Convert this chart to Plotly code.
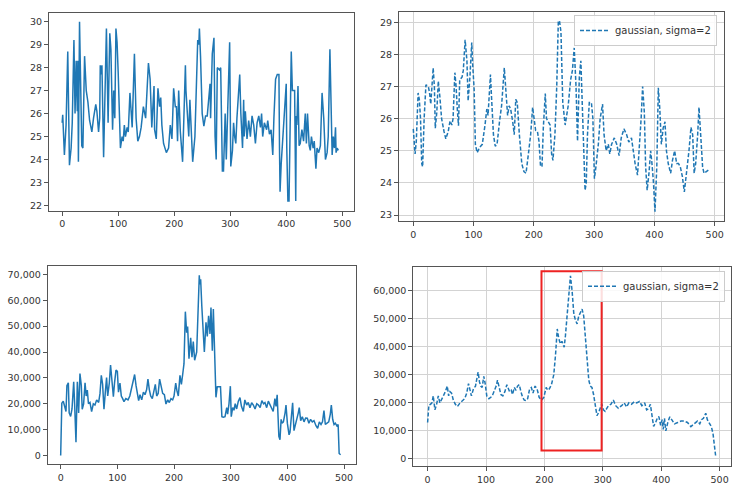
import plotly.graph_objects as go

# raw temperature series (top left) as (index, value)
raw_temp = [(0,25.6),(1,25.95),(4,24.2),(7,25.5),(10,28.7),(13,23.75),(16,24.5),(18,25.6),(21,29.2),(23,26.0),
    (25,28.3),(27,26.1),(28,28.3),(29,23.9),(31,30.0),(33,27.0),(35,24.6),(37,24.5),(40,28.5),(43,27.0),
    (46,26.5),(49,25.7),(53,25.2),(56,25.8),(60,26.4),(62,26.1),(65,25.2),(67,25.8),(68,28.1),(70,27.7),
    (71,28.1),(74,24.1),(76,26.0),(79,29.7),(82,25.6),(85,29.5),(87,28.8),(90,25.3),(92,27.0),(94,25.8),
    (96,29.7),(98,29.1),(100,27.8),(104,24.5),(107,25.0),(109,24.8),(111,25.5),(113,25.0),(116,25.4),(118,25.2),
    (121,26.9),(125,25.4),(129,28.6),(132,25.8),(135,24.8),(138,25.0),(141,25.4),(145,26.3),(149,25.8),(154,28.2),
    (157,27.5),(160,25.4),(164,27.2),(165,25.3),(168,24.9),(171,27.1),(174,26.3),(176,26.7),(178,25.5),(181,24.7),
    (186,24.3),(190,24.5),(193,25.5),(196,24.9),(199,27.1),(202,26.3),(204,26.3),(206,24.8),(208,27.0),(211,25.2),
    (215,23.9),(220,28.1),(221,27.0),(226,25.0),(228,26.6),(233,23.9),(237,25.0),(242,29.2),(244,29.0),(245,29.7),
    (247,28.5),(250,26.0),(253,25.45),(256,25.9),(259,25.9),(261,26.6),(264,27.3),(265,25.8),(268,28.6),(271,29.3),
    (273,25.0),(275,24.0),(277,28.0),(281,27.9),(283,28.0),(286,23.5),(288,23.5),(291,26.0),(293,24.0),(299,29.1),
    (301,23.7),(304,24.4),(306,25.6),(308,25.0),(310,24.7),(312,25.8),(315,27.0),(317,27.7),(319,26.0),(322,24.5),
    (324,26.6),(325,25.0),(327,26.1),(330,24.9),(333,25.7),(336,25.0),(339,25.9),(342,25.5),(345,24.7),(348,25.6),
    (351,25.9),(354,25.4),(356,26.0),(358,25.0),(361,25.6),(365,25.3),(367,25.7),(370,25.1),(373,25.3),(376,24.2),
    (378,25.8),(381,27.5),(384,27.7),(387,27.7),(388,24.5),(389,22.6),(391,23.8),(394,25.0),(397,26.4),(400,27.3),
    (401,24.5),(403,22.2),(405,22.2),(407,25.9),(409,28.7),(411,27.0),(415,27.0),(417,22.2),(418,25.9),(419,25.5),
    (421,27.2),(423,24.6),(425,24.7),(428,25.3),(431,24.8),(434,26.0),(436,24.7),(438,26.0),(441,24.6),(443,24.4),
    (445,25.0),(448,24.5),(450,24.8),(453,23.6),(455,24.5),(458,24.3),(461,24.6),(464,26.9),(467,25.8),(470,24.0),
    (473,24.3),(475,25.0),(478,28.8),(480,26.5),(482,24.2),(484,25.0),(486,24.5),(488,25.4),(489,24.3),(491,24.5),
    (493,24.4)]

# smoothed temperature (top right)
smooth_temp = [(0,25.68),(3,24.9),(5,25.3),(8,26.8),(10,26.6),(12,26.0),(14,24.6),(15.5,24.5),(18,26.0),(21,27.05),
    (25,27.0),(27,26.8),(29,26.45),(31,27.2),(33,27.58),(35,27.0),(36.5,25.7),(39,26.2),(41.5,27.17),(44,26.7),
    (47,26.0),(51,25.6),(54,25.37),(58,25.6),(61,25.93),(64,25.8),(66,26.0),(69,27.43),(71,27.0),(73,26.3),
    (75,25.78),(77,27.2),(81,27.3),(83,27.5),(86,28.45),(89,27.8),(91,26.55),(94,27.3),(97,28.37),(98.5,27.7),
    (101,26.9),(103,25.2),(106,24.94),(110,25.1),(114.5,25.2),(119,25.8),(122,26.3),(124,26.1),(128,27.37),(130,26.6),
    (133,25.5),(136,25.14),(139,25.2),(143,25.9),(146.5,26.4),(151,27.58),(154,26.9),(156.5,26.1),(159,26.4),(161.5,26.3),
    (165,25.9),(167.5,25.5),(170,26.6),(172.5,26.5),(176,25.5),(180,24.6),(183.6,24.35),(187,24.3),(191,24.9),(194.7,25.5),
    (198,26.35),(200,26.0),(203,25.63),(206,25.6),(208.5,25.3),(211,24.55),(213.5,24.5),(215.7,25.7),(219,26.78),(221,26.0),
    (224,25.9),(227,25.8),(229.5,24.9),(231.7,24.7),(235,25.5),(238,27.0),(240.6,29.02),(242.5,29.05),(245,28.7),(248,26.5),
    (252,25.8),(257,26.4),(261,27.2),(264,27.5),(267,28.2),(270,27.0),(272.5,25.3),(275.5,27.3),(278,27.8),(280.5,26.5),
    (282,25.2),(285,23.77),(287,24.0),(289,25.5),(292,26.5),(295.5,26.5),(298,26.0),(300.5,24.13),(303,24.5),(307,25.2),
    (310,26.0),(314,26.45),(316.5,25.5),(320,25.0),(323.6,25.2),(326,24.9),(329,25.2),(333.5,25.4),(337.5,25.2),(341.5,24.85),
    (345,25.4),(349.5,25.68),(354,25.5),(357.5,25.27),(362,25.4),(365,25.0),(368,24.6),(372,24.24),(375,25.0),(378,26.0),
    (380.5,27.0),(383.3,26.2),(385.5,24.5),(388,23.77),(391,24.3),(393.8,25.0),(396,24.6),(398.5,24.0),(401,23.1),(404,24.5),
    (406.5,26.96),(409,26.3),(411.6,25.2),(414.5,25.7),(417.6,25.9),(420,25.0),(423,24.6),(427,24.3),(430,24.7),(433.6,25.0),
    (437,24.6),(440,24.6),(443,24.5),(446.4,24.2),(449.7,23.72),(453.6,24.3),(457.4,25.0),(460.7,25.73),(463.5,25.5),(466,24.3),
    (468.5,24.6),(471.8,25.5),(474,26.35),(476.8,25.5),(480,24.5),(482.3,24.3),(486.7,24.35),(489.5,24.4)]

# raw counts (bottom left)
raw_count = [(0,0),(2,20200),(4.6,21000),(7.6,18500),(9.4,17000),(11,27000),(13.5,28100),(15,16500),(17.6,15100),(20,18000),
    (23,28500),(24.6,20000),(27,5100),(29.4,28500),(31.7,16400),(34,31700),(36.4,27000),(38,17900),(40.5,20000),(43,28100),
    (45,23000),(47,25300),(49,20000),(51.7,20500),(54.6,17000),(57.6,20000),(60.5,19500),(63.5,21500),(67,20500),(69.4,24000),
    (71.7,31000),(74,27500),(76.4,17900),(78.8,24500),(81,30100),(83,23000),(85.8,28000),(88,35000),(90.5,29000),(93,22700),
    (95,28000),(97.6,33000),(100,32500),(102,24500),(104.6,28000),(107,23000),(109.4,22000),(111.7,20800),(115,22000),(118.8,21500),
    (122,23000),(125,25900),(128,28000),(130.5,31300),(133,27000),(135,24000),(137.6,21200),(140,23500),(143,21500),(146,24500),
    (148.8,23500),(151.7,25500),(154,29500),(156.4,25500),(158.8,23000),(161.7,22000),(164.6,26000),(167,27500),(169.4,23000),(172,24000),
    (174.6,29500),(177.6,27000),(180,24000),(183,23500),(185.8,19900),(188.8,21500),(191.7,20500),(194.6,22000),(197.6,21500),(200,23000),
    (203,28000),(205.2,25000),(207.6,23000),(210.5,31000),(213,27500),(215.4,31500),(217.6,35500),(220,55600),(222.3,47500),(224,49900),
    (226.4,37400),(229.4,45500),(231.7,38000),(234,44000),(236.4,36800),(240,40000),(243,60000),(244.6,69700),(245.5,66200),(247,68100),
    (249,57900),(250.6,52000),(253.5,40000),(256.4,51500),(258.7,46000),(261,54000),(263.5,47000),(265.2,57200),(267.6,40500),(269.4,56600),
    (271.7,40000),(274,22500),(276.3,26600),(282,26600),(284.5,15000),(287,14800),(290,15000),(293,18500),(294.6,16000),(297,20000),
    (299.4,26800),(301,15000),(303.5,18500),(305.8,17500),(308,20000),(310.5,18000),(313.5,21000),(316.4,22400),(319,19000),(322.3,17000),
    (325,21500),(328.2,19500),(331,20500),(334,18500),(337,20400),(340,19500),(343,18000),(346,20000),(349,19500),(352,18500),
    (355,21200),(358,20000),(360.5,20500),(363.5,18500),(366.4,21000),(369.4,19500),(372,18000),(375,17000),(378,22000),(380,19000),
    (382,23500),(384,15000),(385,7400),(387,6100),(389,14000),(390.6,12500),(393,13000),(396,16500),(397.6,19500),(400,12500),
    (403,8000),(404.6,9000),(407.6,16000),(409.3,20400),(411.7,9600),(414,11500),(416.4,14000),(419.3,16500),(421,18500),(423.5,13500),
    (426.4,15000),(429.4,13000),(432.3,14500),(435.2,14400),(438,12500),(441,14000),(444,13000),(447,13500),(450.5,11500),(453.5,10500),
    (456.4,13000),(459.4,12000),(462,13000),(464.6,17400),(467,12000),(470,12500),(473,13000),(475.8,16000),(477.6,19500),(480,14000),
    (482.4,12000),(484.7,12500),(487.3,11500),(489.6,12000),(491.4,800),(494,300)]

# smoothed counts (bottom right)
smooth_count = [(0,13000),(2.2,19200),(5,19500),(7.4,20000),(9.7,22500),(12.5,17500),(15.4,19500),(18.3,22500),(21,20000),(24,21000),
    (27,22500),(30.3,24000),(33.7,26000),(36,22500),(38.3,24000),(41,23500),(44,21000),(47.5,19500),(51,18700),(55.5,20000),
    (60,21000),(63.6,21500),(67,23500),(70,26900),(72.2,25000),(75,22500),(78.5,25000),(82,26000),(84.2,28500),(86.5,31000),
    (88.8,27500),(91,26000),(93.4,25500),(96.2,29500),(98.5,27000),(101.3,22500),(105,21500),(108.3,22000),(111.7,23000),(114.5,24500),
    (117.4,26000),(119.7,28100),(122.5,25000),(125.4,23000),(128.8,22500),(132.3,24000),(135.7,26500),(138,25500),(140.4,24000),(143.3,24500),
    (145.5,23000),(148.4,25500),(151.3,24500),(154,26000),(157,26500),(159.8,24000),(162.7,22000),(165.6,21000),(168.5,20800),(171.3,21500),
    (174.7,25000),(177.6,25500),(180.5,23500),(184,26000),(187.4,25000),(191,22000),(195,21000),(199,22000),(203,25500),(205.7,24500),
    (208.5,25000),(212,26500),(216,30000),(219,37000),(222,46400),(224.6,43000),(227.4,41100),(230,42000),(233.9,39900),(236,44000),
    (239,51000),(241.7,58000),(244.6,65400),(247.4,60000),(250.3,52000),(253,49600),(256,48200),(258.8,51000),(261.6,52000),(264.5,53500),
    (267.3,51000),(270,44000),(273,35000),(276,28100),(278.5,26000),(281.4,25500),(284.2,23000),(287,20000),(290,15400),(292.7,16500),
    (295.5,18000),(298.3,19600),(301,17500),(304,17000),(306.8,18000),(309.6,19000),(314,19500),(318,21000),(322,19000),(326.6,18100),
    (332.2,19000),(336.7,20000),(340.7,18500),(344.6,20000),(349,19500),(353.7,20400),(358,20000),(362.7,20500),(367,19000),(371.7,20000),
    (375,17500),(378.5,18000),(381.4,19500),(384.3,15000),(387,11600),(390.5,13000),(393.3,14500),(396,15100),(399,12000),(401.7,14000),
    (403.4,10500),(405.6,14500),(407.9,10000),(411.3,13000),(414.7,15000),(418,14000),(422.7,12500),(428.3,13000),(434,13500),(439.5,13500),
    (445,13000),(450.8,11500),(456.5,12500),(462,13500),(466,12500),(469,14000),(472.3,14500),(476.3,16300),(479,14000),(482.5,12500),
    (485.9,11500),(488.7,9000),(490.5,5000),(493.3,900)]

legend_name = "gaussian, sigma=2"
highlight_x = [195, 298]
highlight_y = [3000, 67000]

W, H = 744, 485
BLUE = "#1f77b4"
FONT = "DejaVu Sans"


def split(pairs):
    return [p[0] for p in pairs], [p[1] for p in pairs]


def px_dom(a, b, total):
    return [a / total, b / total]


def py_dom(top, bottom):
    return [1 - bottom / H, 1 - top / H]


fig = go.Figure()

x, y = split(raw_temp)
fig.add_trace(go.Scatter(x=x, y=y, mode="lines", line=dict(color=BLUE, width=1.5),
                         xaxis="x", yaxis="y", showlegend=False))
x, y = split(smooth_temp)
fig.add_trace(go.Scatter(x=x, y=y, mode="lines", name=legend_name,
                         line=dict(color=BLUE, width=1.5, dash="4px,2px"),
                         xaxis="x2", yaxis="y2", legend="legend"))
x, y = split(raw_count)
fig.add_trace(go.Scatter(x=x, y=y, mode="lines", line=dict(color=BLUE, width=1.5),
                         xaxis="x3", yaxis="y3", showlegend=False))
x, y = split(smooth_count)
fig.add_trace(go.Scatter(x=x, y=y, mode="lines", name=legend_name,
                         line=dict(color=BLUE, width=1.5, dash="4px,2px"),
                         xaxis="x4", yaxis="y4", legend="legend2"))

fig.add_shape(type="rect", xref="x4", yref="y4",
              x0=highlight_x[0], x1=highlight_x[1], y0=highlight_y[0], y1=highlight_y[1],
              line=dict(color="#ee2222", width=2), fillcolor="rgba(0,0,0,0)")

axis_common = dict(showline=True, mirror=True, linecolor="#555555", linewidth=1,
                   ticks="outside", ticklen=4, tickcolor="#555555", zeroline=False,
                   tickfont=dict(family=FONT, size=9.5, color="#333333"))
grid_on = dict(showgrid=True, gridcolor="#d3d3d3", gridwidth=1)
grid_off = dict(showgrid=False)
xticks = dict(tickmode="array", tickvals=[0, 100, 200, 300, 400, 500])

fig.update_layout(
    width=W, height=H,
    margin=dict(l=0, r=0, t=0, b=0),
    paper_bgcolor="white", plot_bgcolor="white",
    font=dict(family=FONT, size=9.5, color="#333333"),
    xaxis=dict(domain=px_dom(49, 354, W), range=[-23.5, 521], anchor="y",
               **xticks, **axis_common, **grid_off),
    yaxis=dict(domain=py_dom(13.3, 212.3), range=[21.78, 30.37], anchor="x",
               tickmode="array", tickvals=list(range(22, 31)), **axis_common, **grid_off),
    xaxis2=dict(domain=px_dom(399, 724, W), range=[-23.7, 515.5], anchor="y2",
                **xticks, **axis_common, **grid_on),
    yaxis2=dict(domain=py_dom(11.7, 223.3), range=[22.80, 29.33], anchor="x2",
                tickmode="array", tickvals=list(range(23, 30)), **axis_common, **grid_on),
    xaxis3=dict(domain=px_dom(47.7, 355.7, W), range=[-22.9, 520.6], anchor="y3",
                **xticks, **axis_common, **grid_off),
    yaxis3=dict(domain=py_dom(268.3, 468.3), range=[-3450, 73220], anchor="x3",
                tickmode="array", tickvals=list(range(0, 70001, 10000)), tickformat=",d",
                **axis_common, **grid_off),
    xaxis4=dict(domain=px_dom(413.3, 730.7, W), range=[-24.5, 519], anchor="y4",
                **xticks, **axis_common, **grid_on),
    yaxis4=dict(domain=py_dom(269, 470), range=[-2590, 68610], anchor="x4",
                tickmode="array", tickvals=list(range(0, 60001, 10000)), tickformat=",d",
                **axis_common, **grid_on),
    legend=dict(x=717 / W, y=1 - 15 / H, xanchor="right", yanchor="top",
                bgcolor="rgba(255,255,255,0.85)", bordercolor="#cccccc", borderwidth=1,
                font=dict(family=FONT, size=10, color="#333333")),
    legend2=dict(x=725 / W, y=1 - 273 / H, xanchor="right", yanchor="top",
                 bgcolor="rgba(255,255,255,0.85)", bordercolor="#cccccc", borderwidth=1,
                 font=dict(family=FONT, size=10, color="#333333")),
)

# the page body has a default margin; drop it so the figure sits at the window's corner
fig.write_html("out.html", config={"displayModeBar": False},
               post_script="document.body.style.margin='0';")
